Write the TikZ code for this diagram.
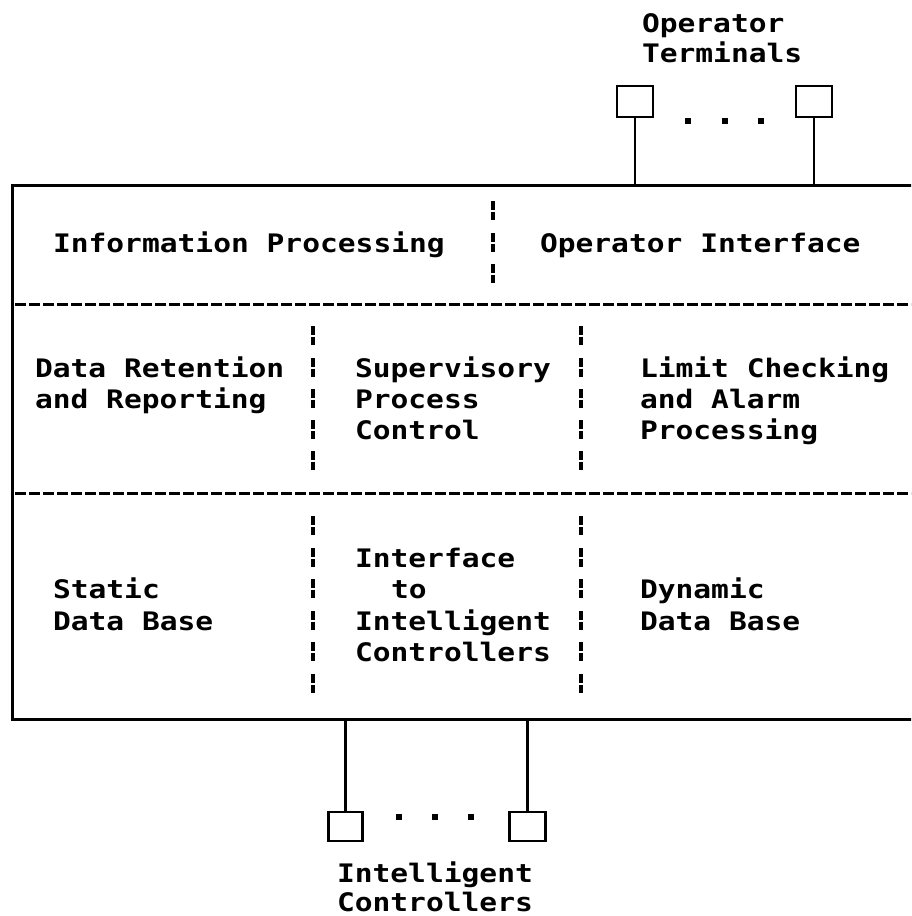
\documentclass[tikz,border=0pt]{standalone}
\usepackage{fontspec}
\newfontfamily\dmono[FakeStretch=1.16]{DejaVu Sans Mono}
\newcommand\txtfont{\dmono\bfseries\fontsize{25.5}{30}\selectfont}
\begin{document}
\begin{tikzpicture}[x=1pt,y=-1pt,
  lbl/.style={anchor=base west, inner sep=0pt, outer sep=0pt, font=\txtfont},
  frame/.style={draw, rectangle, line width=3pt, inner sep=0pt, outer sep=0pt, anchor=north west},
  divider/.style={line width=3pt, dash pattern=on 11pt off 3pt},
  bar/.style={line width=3.2pt},
  term/.style={draw, rectangle, line width=2.8pt, inner sep=0pt, outer sep=0pt,
               minimum width=36pt, minimum height=31pt},
  wire/.style={line width=2.8pt},
  dot/.style={rectangle, fill, inner sep=0pt, minimum size=6pt}
]
\useasboundingbox (0,0) rectangle (911,916);
\clip (0,0) rectangle (911,916);

% system frame (open to the right)
\node[frame, minimum width=940pt, minimum height=534pt] (sys) at (12,185) {};

% horizontal section dividers
\draw[divider] (15,304) -- (930,304);
\draw[divider] (15,493) -- (930,493);

% broken vertical column separators, one mark per text row
\foreach \b in {220,252,283}
  \draw[bar] (493,{\b-19}) -- (493,{\b-10.5}) (493,{\b-8.5}) -- (493,\b);
\foreach \xx in {313,581}{
  \foreach \b in {345,377,408,439,470}
    \draw[bar] (\xx,{\b-19}) -- (\xx,{\b-10.5}) (\xx,{\b-8.5}) -- (\xx,\b);
  \foreach \b in {535,567,598,630,661,693}
    \draw[bar] (\xx,{\b-19}) -- (\xx,{\b-10.5}) (\xx,{\b-8.5}) -- (\xx,\b);
}

% operator terminals
\node[lbl] (otA) at (642,32) {Operator};
\node[lbl] (otB) at (642,62) {Terminals};
\node[term] (ot1) at (635,101.5) {};
\node[term] (ot2) at (814,101.5) {};
\node[dot] (od1) at (688,121) {};
\node[dot] (od2) at (725,121) {};
\node[dot] (od3) at (761,121) {};
\draw[wire] (ot1.south) -- (ot1.south |- sys.north);
\draw[wire] (ot2.south) -- (ot2.south |- sys.north);

% intelligent controllers
\node[term, minimum width=34pt, minimum height=29pt] (ic1) at (345.5,826.5) {};
\node[term, minimum width=36pt, minimum height=29pt] (ic2) at (527.5,826.5) {};
\node[dot] (cd1) at (399,817) {};
\node[dot] (cd2) at (435,817) {};
\node[dot] (cd3) at (471,817) {};
\draw[wire] (ic1.north) -- (ic1.north |- sys.south);
\draw[wire] (ic2.north) -- (ic2.north |- sys.south);
\node[lbl] (icA) at (337,882) {Intelligent};
\node[lbl] (icB) at (337,911) {Controllers};

% top section
\node[lbl] (ip) at (53,252) {Information Processing};
\node[lbl] (oi) at (540,252) {Operator Interface};

% middle section
\node[lbl] (drA) at (35,377) {Data Retention};
\node[lbl] (drB) at (35,408) {and Reporting};
\node[lbl] (spA) at (355,377) {Supervisory};
\node[lbl] (spB) at (355,408) {Process};
\node[lbl] (spC) at (355,439) {Control};
\node[lbl] (lcA) at (640,377) {Limit Checking};
\node[lbl] (lcB) at (640,408) {and Alarm};
\node[lbl] (lcC) at (640,439) {Processing};

% bottom section
\node[lbl] (sdA) at (53,598) {Static};
\node[lbl] (sdB) at (53,630) {Data Base};
\node[lbl] (ifA) at (355,567) {Interface};
\node[lbl] (ifB) at (391,598) {to};
\node[lbl] (ifC) at (355,630) {Intelligent};
\node[lbl] (ifD) at (355,661) {Controllers};
\node[lbl] (ddA) at (640,598) {Dynamic};
\node[lbl] (ddB) at (640,630) {Data Base};
\end{tikzpicture}
\end{document}
